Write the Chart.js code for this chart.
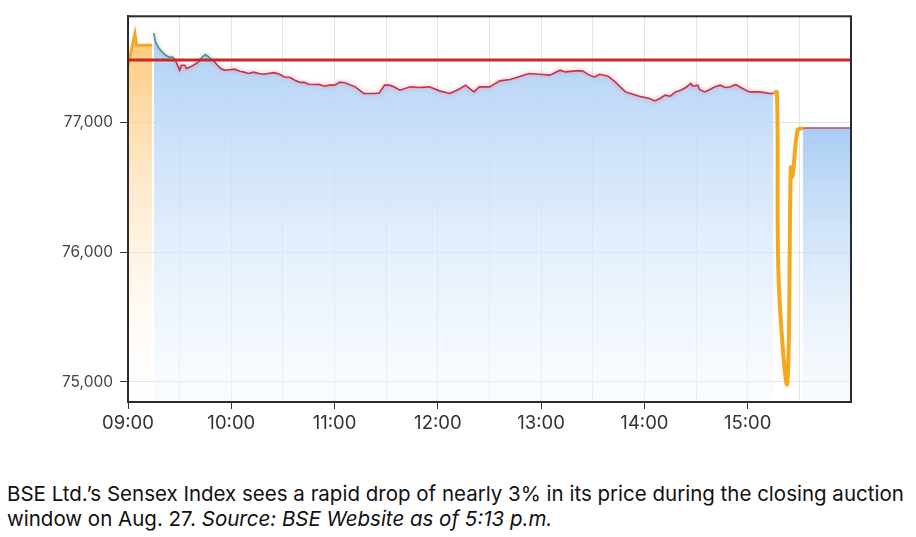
<!DOCTYPE html>
<html>
<head>
<meta charset="utf-8">
<script src="https://cdn.jsdelivr.net/npm/chart.js@4.4.1/dist/chart.umd.min.js"></script>
<style>
  body { margin: 0; background: #fff; width: 916px; height: 537px; overflow: hidden; position: relative; }
  #chart { position: absolute; left: 0; top: 0; }
  #caption { position: absolute; left: 7px; top: 481px; font-family: Inter, "Noto Sans", sans-serif; font-size: 20.5px; line-height: 25px; color: #111; white-space: nowrap; }
</style>
</head>
<body>
<canvas id="chart" width="916" height="450"></canvas>
<div id="caption">BSE Ltd.’s Sensex Index sees a rapid drop of nearly 3% in its price during the closing auction<br>window on Aug. 27. <i>Source: BSE Website as of 5:13 p.m.</i></div>
<script>
// Sensex intraday, Aug 27
const prevClose = 77479;

const preOpenTimes = ['09:00', '09:02', '09:04', '09:05', '09:14'];
const preOpenValues = [77430, 77560, 77682, 77592, 77592];

const sessionTimes = ['09:15','09:16','09:18','09:20','09:22','09:24','09:26','09:27','09:28',
  '09:30','09:31','09:33','09:34','09:36','09:38','09:41','09:43','09:45','09:47','09:48','09:50','09:52','09:54','09:56','09:59',
  '10:02','10:05','10:07','10:10','10:13','10:16','10:19','10:22','10:25','10:28','10:31','10:34','10:37','10:40','10:42','10:45','10:48','10:51','10:54','10:57',
  '11:00','11:03','11:06','11:12','11:17','11:23','11:26','11:29','11:32','11:35','11:38','11:44','11:49','11:55',
  '12:01','12:07','12:13','12:16','12:21','12:24','12:30','12:36','12:42','12:48','12:53','12:59',
  '13:05','13:11','13:14','13:20','13:24','13:28','13:31','13:34','13:39','13:43','13:46','13:49','13:52','13:57',
  '14:03','14:06','14:09','14:12','14:15','14:18','14:21','14:24','14:27','14:28','14:31','14:32','14:35','14:38','14:41','14:44','14:47','14:50','14:53','14:56','14:59',
  '15:01','15:07','15:13','15:15'];
const sessionValues = [77685,77618,77569,77538,77515,77500,77502,77485,77464,
  77400,77438,77438,77413,77425,77438,77464,77502,77521,77500,77490,77469,77438,77413,77400,77404,
  77408,77392,77387,77375,77385,77375,77369,77377,77381,77369,77348,77346,77323,77305,77308,77292,77290,77292,77277,77285,
  77285,77308,77304,77272,77221,77221,77225,77285,77285,77269,77246,77272,77267,77272,
  77241,77221,77259,77285,77233,77272,77272,77318,77328,77354,77375,77369,
  77362,77400,77387,77395,77395,77362,77348,77369,77354,77310,77272,77233,77221,77200,
  77182,77164,77182,77208,77200,77233,77246,77267,77298,77277,77285,77252,77233,77252,77272,77285,77267,77272,77290,77267,77246,
  77233,77233,77221,77223];

const auctionTimes = ['15:15', '15:17', '15:18', '15:23', '15:25', '15:26', '15:29', '15:32'];
const auctionValues = [77223, 77231, 75780, 74990, 76650, 76580, 76940, 76955];

const postTimes = ['15:32', '16:00'];
const postValues = [76955, 76955];

const xLabels = ['09:00', '10:00', '11:00', '12:00', '13:00', '14:00', '15:00'];
const yTicks = [75000, 76000, 77000];

function toMin(t) {
  const p = t.split(':');
  return parseInt(p[0]) * 60 + parseInt(p[1]);
}
function pts(times, values) {
  return times.map((t, i) => ({ x: toMin(t), y: values[i] }));
}
function fmt(m) {
  const h = Math.floor(m / 60), mm = m % 60;
  return (h < 10 ? '0' : '') + h + ':' + (mm < 10 ? '0' : '') + mm;
}

function vGradient(top, c1, c2) {
  return function (context) {
    const chart = context.chart;
    const area = chart.chartArea;
    if (!area) return null;
    const y0 = chart.scales.y.getPixelForValue(top);
    const g = chart.ctx.createLinearGradient(0, y0, 0, area.bottom);
    g.addColorStop(0, c1);
    g.addColorStop(1, c2);
    return g;
  };
}

const green = '#27a586';
const red = '#c8324a';
const font = 'Inter, "Noto Sans", sans-serif';

// soft halo round the thin price line
const glow = {
  id: 'glow',
  beforeDatasetDraw(chart, args) {
    if (!args.meta._dataset.glow) return;
    chart.ctx.save();
    chart.ctx.shadowColor = 'rgba(230,80,100,0.55)';
    chart.ctx.shadowBlur = 4;
  },
  afterDatasetDraw(chart, args) {
    if (!args.meta._dataset.glow) return;
    chart.ctx.restore();
  }
};

// dark frame round the plot
const frame = {
  id: 'frame',
  afterDraw(chart) {
    const a = chart.chartArea, ctx = chart.ctx;
    ctx.save();
    ctx.strokeStyle = '#2b2b2b';
    ctx.lineWidth = 2;
    ctx.strokeRect(a.left, a.top, a.right - a.left, a.bottom - a.top);
    ctx.restore();
  }
};

new Chart(document.getElementById('chart'), {
  type: 'line',
  data: {
    datasets: [
      {
        data: pts(preOpenTimes, preOpenValues),
        borderColor: '#f5a623',
        borderWidth: 3,
        fill: 'start',
        backgroundColor: vGradient(77700, 'rgba(252,196,112,0.95)', 'rgba(255,245,232,0)'),
        pointRadius: 0,
        order: 2
      },
      // area under the regular session
      {
        data: pts(sessionTimes, sessionValues),
        borderWidth: 0,
        fill: 'start',
        backgroundColor: vGradient(77450, 'rgba(180,211,245,0.95)', 'rgba(246,250,255,0.5)'),
        pointRadius: 0,
        order: 3
      },
      // the session line, green above the previous close, red below
      {
        data: pts(sessionTimes, sessionValues),
        glow: true,
        borderWidth: 1.6,
        borderColor: red,
        segment: {
          borderColor: c => (c.p0.parsed.y + c.p1.parsed.y) / 2 >= prevClose ? green : red
        },
        fill: false,
        pointRadius: 0,
        order: 2
      },
      {
        data: pts(auctionTimes, auctionValues),
        borderColor: '#f5a81c',
        borderWidth: 4,
        tension: 0.35,
        fill: false,
        pointRadius: 0,
        order: 1
      },
      {
        data: pts(postTimes, postValues),
        borderColor: '#c0485a',
        borderWidth: 1.5,
        fill: 'start',
        backgroundColor: vGradient(76950, 'rgba(165,202,243,0.95)', 'rgba(240,246,253,0.4)'),
        pointRadius: 0,
        order: 2
      },
      {
        data: [{ x: 540, y: prevClose }, { x: 960, y: prevClose }],
        borderColor: '#c62828',
        borderWidth: 3,
        fill: false,
        pointRadius: 0,
        order: 0
      }
    ]
  },
  options: {
    responsive: false,
    animation: false,
    events: [],
    layout: { padding: { top: 16, right: 65, left: 0, bottom: 0 } },
    plugins: { legend: { display: false }, tooltip: { enabled: false } },
    scales: {
      x: {
        type: 'linear',
        min: 540,
        max: 960,
        afterFit: s => { s.height = 48; },
        ticks: {
          stepSize: 30,
          includeBounds: false,
          autoSkip: false,
          maxRotation: 0,
          padding: 3,
          color: '#333',
          font: { family: font, size: 18.5 },
          callback: v => xLabels.includes(fmt(v)) ? fmt(v) : ''
        },
        grid: {
          color: '#e4e4e4',
          lineWidth: 1,
          tickLength: 7,
          tickColor: c => (c.tick && c.tick.value % 60 === 0 && c.tick.value < 960) ? '#333' : 'rgba(0,0,0,0)'
        },
        border: { color: '#2b2b2b', width: 2 }
      },
      y: {
        type: 'linear',
        min: 74846,
        max: 77815,
        afterFit: s => { s.width = 128; },
        afterBuildTicks: s => { s.ticks = yTicks.map(v => ({ value: v })); },
        ticks: {
          padding: 7,
          color: '#444',
          font: { family: font, size: 15.5 },
          callback: v => v.toLocaleString('en-US')
        },
        grid: {
          color: '#e2e2e2',
          lineWidth: 1,
          tickLength: 8,
          tickColor: '#333'
        },
        border: { color: '#2b2b2b', width: 2 }
      }
    }
  },
  plugins: [glow, frame]
});
</script>
</body>
</html>
